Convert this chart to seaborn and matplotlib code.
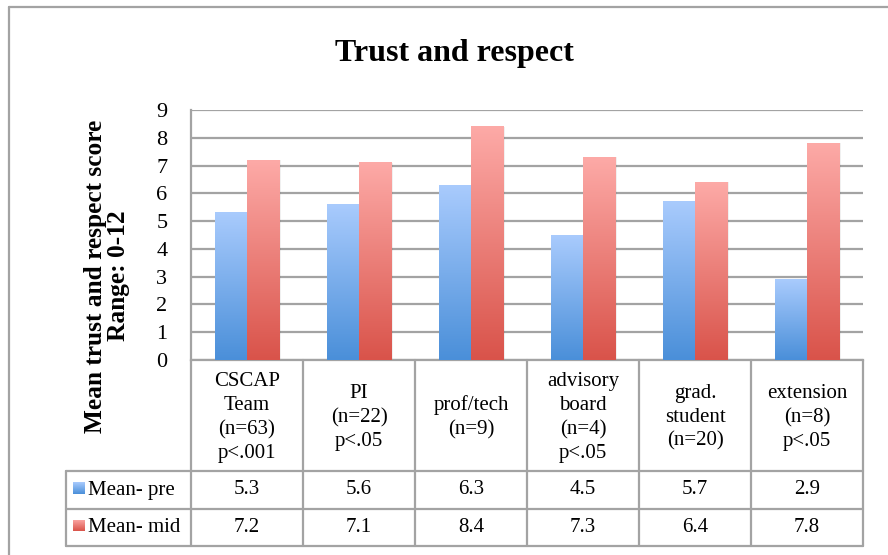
import matplotlib
matplotlib.use("Agg")
import numpy as np
import pandas as pd
import matplotlib.pyplot as plt
import seaborn as sns
from matplotlib.colors import LinearSegmentedColormap
from matplotlib.lines import Line2D
from matplotlib.transforms import blended_transform_factory

# ─── Data ─────────────────────────────────────────────────────────────────────

categories = [
    "CSCAP\nTeam\n(n=63)\np<.001",
    "PI\n(n=22)\np<.05",
    "prof/tech\n(n=9)",
    "advisory\nboard\n(n=4)\np<.05",
    "grad.\nstudent\n(n=20)",
    "extension\n(n=8)\np<.05",
]
series_names = ["Mean- pre", "Mean- mid"]
mean_pre = [5.3, 5.6, 6.3, 4.5, 5.7, 2.9]
mean_mid = [7.2, 7.1, 8.4, 7.3, 6.4, 7.8]
y_ticks = [0, 1, 2, 3, 4, 5, 6, 7, 8, 9]

df = pd.DataFrame({
    "group": categories * 2,
    "series": [series_names[0]] * len(categories) + [series_names[1]] * len(categories),
    "value": mean_pre + mean_mid,
})

# ─── Style ────────────────────────────────────────────────────────────────────

sns.set_theme(style="white")
plt.rcParams["font.family"] = ["Liberation Serif", "DejaVu Serif"]
plt.rcParams["text.color"] = "black"
plt.rcParams["ytick.color"] = "black"

GRID = "#a3a3a3"
cmap_pre = LinearSegmentedColormap.from_list("pre", ["#4a8fd9", "#a9cbfd"])
cmap_mid = LinearSegmentedColormap.from_list("mid", ["#d9534a", "#fdaaa7"])
flat = {series_names[0]: "#79aaea", series_names[1]: "#ec7f78"}

W, H = 888, 555
fig = plt.figure(figsize=(W / 100, H / 100), dpi=100)
fig.patch.set_facecolor("white")

# plot area in pixel terms
L, R, T, B = 191, 863, 110, 360
ax = fig.add_axes([L / W, (H - B) / H, (R - L) / W, (B - T) / H])

sns.barplot(
    data=df, x="group", y="value", hue="series",
    palette=flat, width=0.58, saturation=1, legend=False, ax=ax,
)

# gradient fill on each bar
for cont, cm in zip(ax.containers, [cmap_pre, cmap_mid]):
    for p in cont.patches:
        x0, w, h = p.get_x(), p.get_width(), p.get_height()
        grad = np.linspace(0, 1, 256).reshape(-1, 1)
        ax.imshow(grad, cmap=cm, origin="lower", aspect="auto",
                  extent=[x0, x0 + w, 0, h], zorder=3)
        # faint shadow on the right side
        ax.add_patch(plt.Rectangle((x0 + w, 0), w * 0.06, h, color="#000000",
                                   alpha=0.06, lw=0, zorder=2))
        p.set_visible(False)

ax.set_xlim(-0.5, len(categories) - 0.5)
ax.set_ylim(0, 9)
ax.set_yticks(y_ticks)
ax.set_yticklabels([str(t) for t in y_ticks], fontsize=16)
ax.tick_params(axis="y", length=0, pad=17, labelcolor="black")
ax.set_xticks([])
ax.set_xlabel("")
ax.set_ylabel("")
ax.yaxis.grid(True, color=GRID, lw=1.6, zorder=0)
ax.set_axisbelow(True)
for side in ["top", "right"]:
    ax.spines[side].set_visible(False)
for side in ["left", "bottom"]:
    ax.spines[side].set_color(GRID)
    ax.spines[side].set_linewidth(1.6)

# ─── Data table under the plot ────────────────────────────────────────────────

ph = B - T
def ay(py):
    return (B - py) / ph

row_header_b = 471
row_pre_b = 509
row_mid_b = 546
left_col = (66 - L) / (R - L)

trans = blended_transform_factory(ax.transData, ax.transAxes)
lkw = dict(color=GRID, lw=1.6, clip_on=False)

# verticals between category columns
for i in range(len(categories) + 1):
    ax.add_line(Line2D([i - 0.5, i - 0.5], [0, ay(row_mid_b)], transform=trans, **lkw))
# left label column
ax.add_line(Line2D([left_col, left_col], [ay(row_header_b), ay(row_mid_b)],
                   transform=ax.transAxes, **lkw))
for yb in [row_header_b, row_pre_b, row_mid_b]:
    ax.add_line(Line2D([left_col, 1], [ay(yb), ay(yb)], transform=ax.transAxes, **lkw))

for i, cat in enumerate(categories):
    ax.text(i, ay((B + row_header_b) / 2 + 2), cat, transform=trans, ha="center",
            va="center", fontsize=15, linespacing=1.34, multialignment="center")

rows = [(mean_pre, (row_header_b + row_pre_b) / 2, cmap_pre),
        (mean_mid, (row_pre_b + row_mid_b) / 2, cmap_mid)]
for (vals, yc, cm), name in zip(rows, series_names):
    for i, v in enumerate(vals):
        ax.text(i, ay(yc), f"{v:.1f}", transform=trans, ha="center",
                va="center", fontsize=15)
    # legend key with gradient
    kx0, kx1 = 73, 85
    ky0, ky1 = yc - 8, yc + 4
    kax = fig.add_axes([kx0 / W, (H - ky1) / H, (kx1 - kx0) / W, (ky1 - ky0) / H])
    kax.imshow(np.linspace(0, 1, 64).reshape(-1, 1), cmap=cm, origin="lower",
               aspect="auto")
    kax.axis("off")
    fig.text(88 / W, (H - yc) / H, name, ha="left", va="center", fontsize=15)

# ─── Titles ───────────────────────────────────────────────────────────────────

fig.text(454 / W, (H - 54) / H, "Trust and respect", ha="center", va="center",
         fontsize=23, fontweight="bold")
fig.text(107 / W, (H - 276) / H, "Mean trust and respect score\nRange: 0-12",
         rotation=90, ha="center", va="center", multialignment="center",
         fontsize=18.3, fontweight="bold", linespacing=0.95)

# outer chart frame
fig.add_artist(Line2D([9 / W, 9 / W], [0, (H - 7) / H], color=GRID, lw=1.6,
                      transform=fig.transFigure))
fig.add_artist(Line2D([9 / W, 1], [(H - 7) / H, (H - 7) / H], color=GRID, lw=1.6,
                      transform=fig.transFigure))

fig.savefig("out.png", dpi=100, facecolor="white")
